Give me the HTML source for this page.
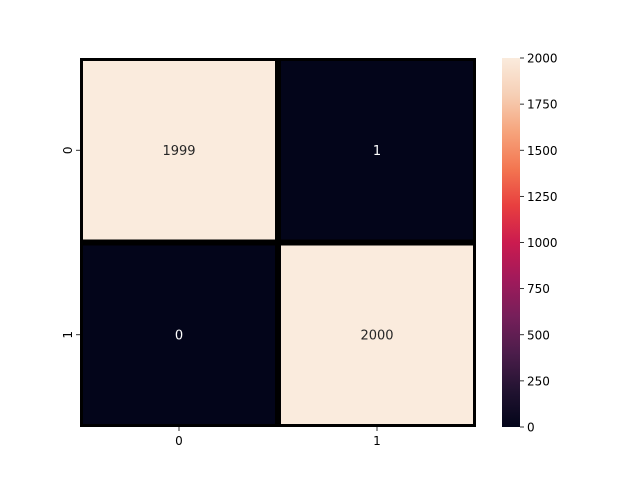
<!DOCTYPE html>
<html><head><meta charset="utf-8"><style>
body{margin:0;background:#fff;font-family:"Liberation Sans","DejaVu Sans",sans-serif;}
svg text{font-family:"DejaVu Sans","Liberation Sans",sans-serif;}
</style></head><body>
<svg id="chart" width="640" height="480" xmlns="http://www.w3.org/2000/svg">
<defs><linearGradient id="rocket" x1="0" y1="1" x2="0" y2="0">
<stop offset="0" stop-color="#03051a"/><stop offset="0.1" stop-color="#221331"/><stop offset="0.2" stop-color="#4c1d4b"/>
<stop offset="0.3" stop-color="#761f5a"/><stop offset="0.4" stop-color="#a11a5b"/><stop offset="0.5" stop-color="#cb1b4f"/>
<stop offset="0.6" stop-color="#e83f3f"/><stop offset="0.7" stop-color="#f37651"/><stop offset="0.8" stop-color="#f6a47c"/>
<stop offset="0.9" stop-color="#f6cfb5"/><stop offset="1" stop-color="#faebdd"/></linearGradient></defs>
<g id="cells"></g><g id="axes"></g>
<rect x="502" y="58" width="18" height="369" fill="url(#rocket)"/>
<g id="cbar"></g>
</svg>
<script>
const rowLabels=["0","1"];
const colLabels=["0","1"];
const values=[[1999,1],[0,2000]];
const cbarTicks=[0,250,500,750,1000,1250,1500,1750,2000];
const vmin=0,vmax=2000;
const X0=80,X1=476,Y0=58,Y1=427,CB=502,CBW=18;
const NS="http://www.w3.org/2000/svg";
const stops=[[0,"#03051a"],[0.1,"#221331"],[0.2,"#4c1d4b"],[0.3,"#761f5a"],[0.4,"#a11a5b"],[0.5,"#cb1b4f"],[0.6,"#e83f3f"],[0.7,"#f37651"],[0.8,"#f6a47c"],[0.9,"#f6cfb5"],[1,"#faebdd"]];
function hex(h){return [1,3,5].map(i=>parseInt(h.substr(i,2),16));}
function cmap(v){let t=Math.max(0,Math.min(1,(v-vmin)/(vmax-vmin)));
 for(let i=1;i<stops.length;i++){if(t<=stops[i][0]){const a=stops[i-1],b=stops[i],f=(t-a[0])/(b[0]-a[0]);const ca=hex(a[1]),cb=hex(b[1]);
 const c=ca.map((x,k)=>Math.round(x+(cb[k]-x)*f));return {css:`rgb(${c})`,lum:(0.299*c[0]+0.587*c[1]+0.114*c[2])/255};}}
 return {css:stops[10][1],lum:0.9};}
function el(tag,attrs,parent){const e=document.createElementNS(NS,tag);for(const k in attrs)e.setAttribute(k,attrs[k]);parent.appendChild(e);return e;}
const cw=(X1-X0)/colLabels.length,ch=(Y1-Y0)/rowLabels.length;
const xs=j=>X0+j*cw,ys=i=>Y0+i*ch;
const cells=document.getElementById('cells'),axes=document.getElementById('axes'),cbar=document.getElementById('cbar');
values.forEach((row,i)=>row.forEach((v,j)=>{
 const c=cmap(v);
 const r=el('rect',{x:xs(j)+1.5,y:ys(i)+1.5,width:cw-3,height:ch-3,fill:c.css,stroke:'#000','stroke-width':3},cells);
 
 
 const t=el('text',{x:xs(j)+cw/2,y:ys(i)+ch/2+4.5,'text-anchor':'middle','font-size':13,fill:c.lum>0.5?'#262626':'#ffffff'},cells);
 t.textContent=v;
 
 
}));
colLabels.forEach((l,j)=>{const x=xs(j)+cw/2;
 el('line',{x1:x,x2:x,y1:Y1,y2:Y1+4,stroke:'#000','stroke-width':0.8},axes);
 const t=el('text',{x:x,y:Y1+18,'text-anchor':'middle','font-size':12,fill:'#000'},axes);t.textContent=l;
 
 });
rowLabels.forEach((l,i)=>{const y=ys(i)+ch/2;
 el('line',{x1:X0-4,x2:X0,y1:y,y2:y,stroke:'#000','stroke-width':0.8},axes);
 const t=el('text',{x:0,y:0,'text-anchor':'middle','font-size':12,fill:'#000',transform:`translate(${X0-8},${y}) rotate(-90)`},axes);t.textContent=l;
 
 });
cbarTicks.forEach(v=>{const y=Y1-(v-vmin)/(vmax-vmin)*(Y1-Y0);
 el('line',{x1:CB+CBW,x2:CB+CBW+4,y1:y,y2:y,stroke:'#000','stroke-width':0.8},cbar);
 const t=el('text',{x:CB+CBW+7,y:y+4.5,'font-size':12,fill:'#000'},cbar);t.textContent=v;
 
 });
</script>
</body></html>
